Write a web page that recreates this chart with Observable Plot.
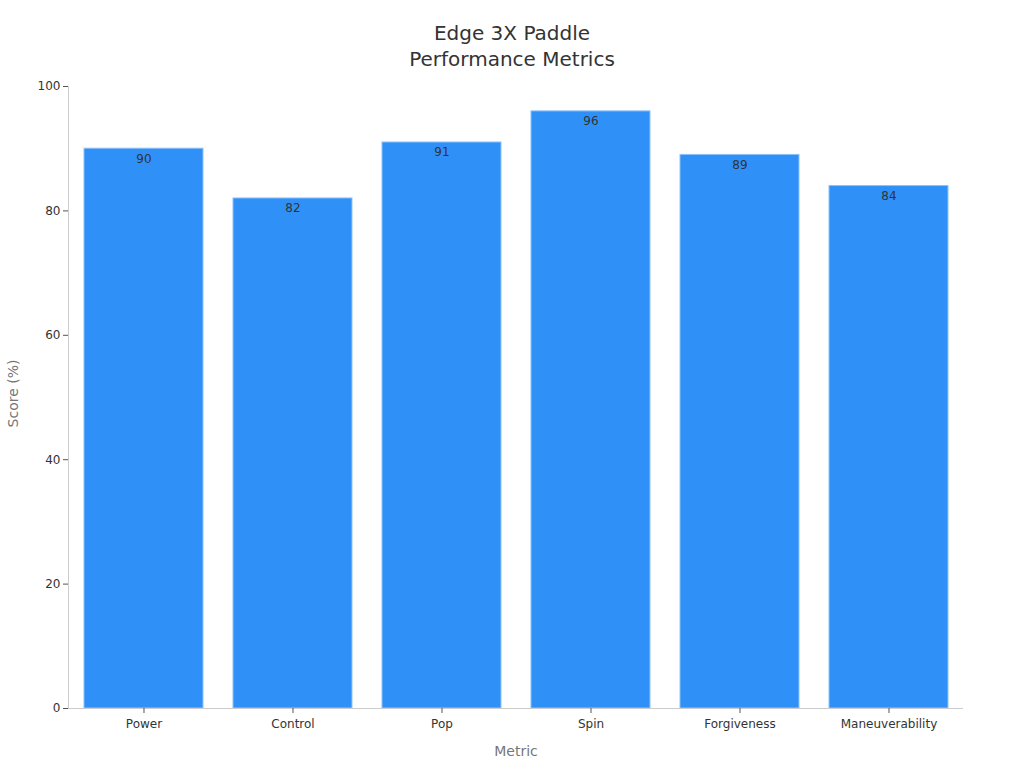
<!DOCTYPE html>
<html>
<head>
<meta charset="utf-8">
<script src="https://cdn.jsdelivr.net/npm/d3@7"></script>
<script src="https://cdn.jsdelivr.net/npm/@observablehq/plot@0.6"></script>
<style>
  html, body { margin: 0; padding: 0; background: #fff; }
  body { width: 1024px; height: 768px; overflow: hidden; font-family: "DejaVu Sans", sans-serif; }
  #title { height: 70px; text-align: center; color: #333; font-size: 20px; line-height: 26px; padding-top: 20px; box-sizing: border-box; }
</style>
</head>
<body>
<div id="title">Edge 3X Paddle<br>Performance Metrics</div>
<div id="chart"></div>
<script>
const metrics = ["Power", "Control", "Pop", "Spin", "Forgiveness", "Maneuverability"];
const scores = [90, 82, 91, 96, 89, 84];
const yTicks = [0, 20, 40, 60, 80, 100];

const data = metrics.map((m, i) => ({metric: m, score: scores[i]}));

const chart = Plot.plot({
  width: 1024,
  height: 698,
  marginTop: 16,
  marginBottom: 60,
  marginLeft: 68,
  marginRight: 61,
  style: {fontFamily: "DejaVu Sans, sans-serif", fontSize: "12px", color: "#333", background: "#fff"},
  x: {domain: metrics, paddingInner: 0.2013, paddingOuter: 0.104, align: 0.516, round: false, label: null},
  y: {domain: [0, 100], label: null},
  marks: [
    Plot.barY(data, {x: "metric", y: "score", fill: "#2f91f8", stroke: "#8ec2fa", strokeWidth: 1}),
    Plot.text(data, {x: "metric", y: "score", text: d => String(d.score), dy: 10, fill: "#333", fontSize: 12}),
    Plot.ruleY([0], {stroke: "#cccccc"}),
    Plot.frame({anchor: "left", stroke: "#cccccc"}),
    Plot.axisY({ticks: yTicks, tickSize: 5, tickPadding: 3, stroke: "#555", label: null, fontSize: 12}),
    Plot.axisX({tickSize: 5, tickPadding: 6, stroke: "#555", label: null, fontSize: 12}),
    Plot.text(["Score (%)"], {frameAnchor: "left", textAnchor: "middle", dx: -55, dy: -4, rotate: -90, fill: "#777", fontSize: 14}),
    Plot.text(["Metric"], {frameAnchor: "bottom", dy: 47, fill: "#777", fontSize: 14})
  ]
});
document.getElementById("chart").appendChild(chart);
</script>
</body>
</html>
